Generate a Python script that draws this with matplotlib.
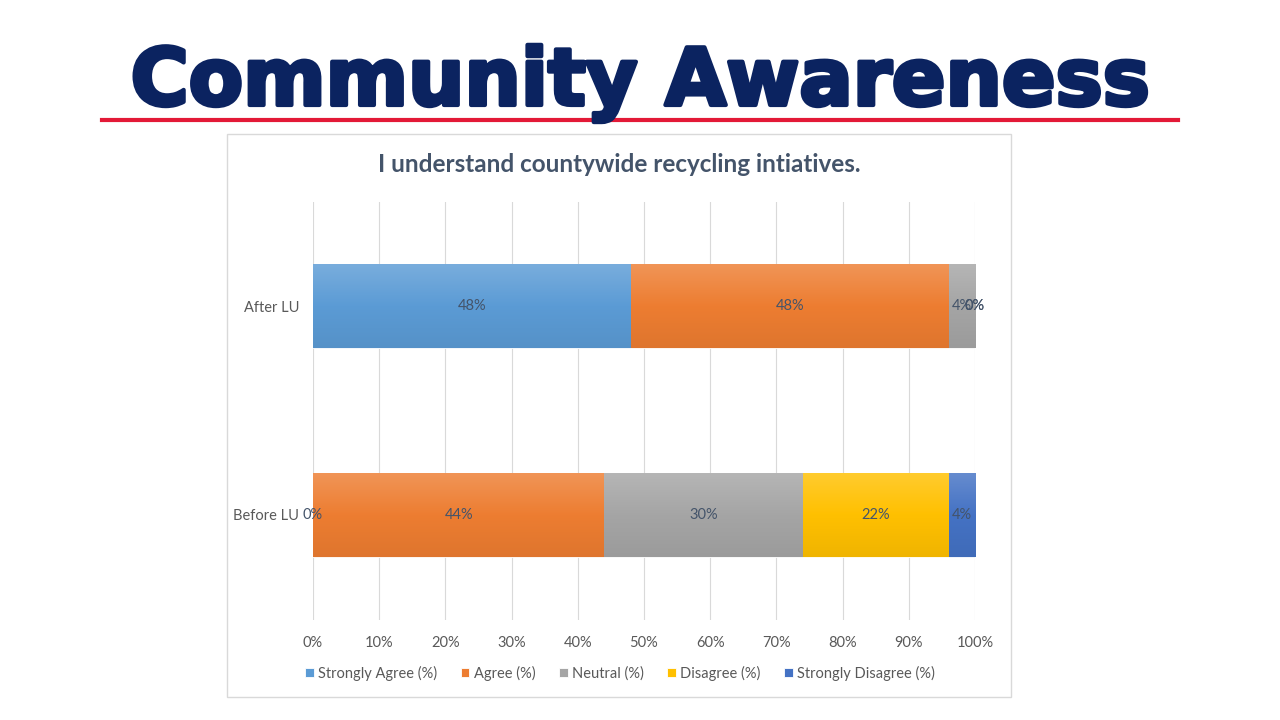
import matplotlib
matplotlib.use("Agg")
import matplotlib.pyplot as plt
import matplotlib.patheffects as pe
import numpy as np
from matplotlib.colors import to_rgb, LinearSegmentedColormap
from matplotlib.patches import Rectangle

# ---- data ----
categories = ["Before LU", "After LU"]
series_names = ["Strongly Agree (%)", "Agree (%)", "Neutral (%)", "Disagree (%)", "Strongly Disagree (%)"]
strongly_agree = [0, 48]
agree = [44, 48]
neutral = [30, 4]
disagree = [22, 0]
strongly_disagree = [4, 0]
series_values = [strongly_agree, agree, neutral, disagree, strongly_disagree]
series_colors = ["#5B9BD5", "#ED7D31", "#A5A5A5", "#FFC000", "#4472C4"]
xticks = [0, 10, 20, 30, 40, 50, 60, 70, 80, 90, 100]
xtick_labels = [f"{t}%" for t in xticks]
main_title = "Community Awareness"
chart_title = "I understand countywide recycling intiatives."

FONT = ["Lato", "DejaVu Sans"]
plt.rcParams["font.family"] = FONT

fig = plt.figure(figsize=(12.8, 7.2), dpi=100)
fig.patch.set_facecolor("white")

# main title
fig.text(640/1280, 1-105/720, main_title, ha="center", va="baseline", fontsize=57,
         fontweight="bold", color="#0B2360", family=["DejaVu Sans"],
         path_effects=[pe.withStroke(linewidth=3, foreground="#0B2360")])
# red rule
fig.add_artist(plt.Line2D([102/1280, 1178/1280], [1-120/720, 1-120/720],
                          color="#E31937", lw=3, transform=fig.transFigure))
# chart frame
fig.add_artist(Rectangle((227/1280, 1-697/720), (1011-227)/1280, (697-134)/720,
                         transform=fig.transFigure, facecolor="white",
                         edgecolor="#D9D9D9", lw=1, zorder=0))
fig.text(619/1280, 1-165/720, chart_title, ha="center", va="center",
         fontsize=17.5, fontweight="bold", color="#44546A")

ax = fig.add_axes([313/1280, 1-619.5/720, 662/1280, 418/720])
ax.set_facecolor("none")

def lighten(c, f):
    r = np.array(to_rgb(c))
    return tuple(r + (1 - r) * f)

def darken(c, f):
    r = np.array(to_rgb(c))
    return tuple(r * (1 - f))

ypos = np.arange(len(categories))
left = np.zeros(len(categories))
height = 0.4
handles = []
for name, vals, col in zip(series_names, series_values, series_colors):
    vals = np.array(vals, dtype=float)
    bars = ax.barh(ypos, vals, left=left, height=height, color=col,
                   edgecolor="white", linewidth=0.6, label=name, zorder=2)
    cmap = LinearSegmentedColormap.from_list("g", [darken(col, 0.06), col, lighten(col, 0.18)])
    grad = np.linspace(0, 1, 64).reshape(-1, 1)
    for b, v in zip(bars, vals):
        if v <= 0:
            continue
        x0, y0 = b.get_x(), b.get_y()
        w, h = b.get_width(), b.get_height()
        im = ax.imshow(grad, extent=(x0, x0 + w, y0, y0 + h), origin="lower",
                       cmap=cmap, aspect="auto", zorder=2.5, interpolation="bilinear")
        im.set_clip_path(b)
    for b, v, l in zip(bars, vals, left):
        ax.text(l + v / 2, b.get_y() + b.get_height() / 2, f"{int(v)}%",
                ha="center", va="center", fontsize=10.5, color="#44546A", zorder=4)
    handles.append(bars)
    left = left + vals

ax.set_xlim(0, 100)
ax.set_ylim(-0.5, 1.5)
ax.set_xticks(xticks)
ax.set_xticklabels(xtick_labels, fontsize=10.5, color="#595959")
ax.set_yticks(ypos)
ax.set_yticklabels(categories, fontsize=10.5, color="#595959")
ax.tick_params(axis="both", length=0, pad=10)
ax.tick_params(axis="x", pad=12)
ax.xaxis.grid(True, color="#D9D9D9", lw=0.8, zorder=0)
ax.set_axisbelow(True)
for s in ax.spines.values():
    s.set_visible(False)

fig.legend(handles=handles, labels=series_names, loc="center",
           bbox_to_anchor=(620/1280, 1-673/720), ncol=5, frameon=False,
           fontsize=10.5, handlelength=0.6, handleheight=0.6, handletextpad=0.3,
           columnspacing=1.6, labelcolor="#595959")

fig.savefig("out.png", dpi=100, facecolor="white")
